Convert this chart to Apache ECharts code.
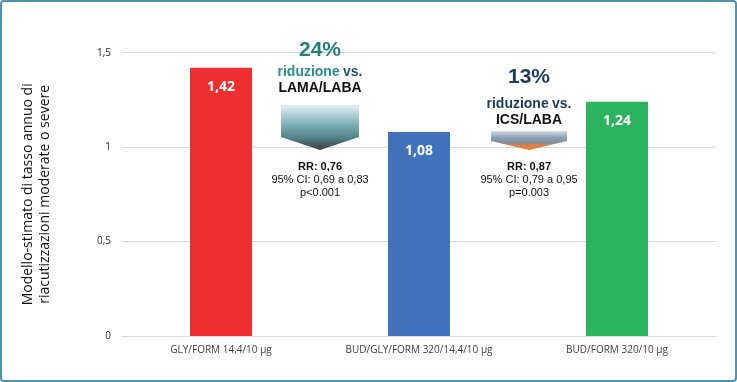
<!DOCTYPE html>
<html>
<head>
<meta charset="utf-8">
<script src="https://cdn.jsdelivr.net/npm/echarts@6/dist/echarts.min.js"></script>
<style>
html,body{margin:0;padding:0;background:#fff;}
#c{width:737px;height:382px;}
</style>
</head>
<body>
<div id="c"></div>
<script>
const categories = ['GLY/FORM 14,4/10 \u00b5g', 'BUD/GLY/FORM 320/14,4/10 \u00b5g', 'BUD/FORM 320/10 \u00b5g'];
const values = [1.42, 1.08, 1.24];
const barColors = ['#ef2f2f', '#4372bd', '#2bb35e'];
const yTicks = [0, 0.5, 1, 1.5];
const yTitle = ['Modello-stimato di tasso annuo di', 'riacutizzazioni moderate o severe'];
const ann1 = { pct: '24%', vs: 'LAMA/LABA', rr: '0,76', ci: '95% CI: 0,69 a 0,83', p: 'p<0.001' };
const ann2 = { pct: '13%', vs: 'ICS/LABA', rr: '0,87', ci: '95% CI: 0,79 a 0,95', p: 'p=0.003' };

const fmt = v => String(v).replace('.', ',');
const chart = echarts.init(document.getElementById('c'));
const F = 'Liberation Sans, Arial, sans-serif';

function arrow(x1, x2, yTop, yRect, yTip, stops) {
  const xm = (x1 + x2) / 2;
  return {
    type: 'polygon', z: 10,
    shape: { points: [[x1, yTop], [x2, yTop], [x2, yRect], [xm, yTip], [x1, yRect]] },
    style: { fill: new echarts.graphic.LinearGradient(0, 0, 0, 1, stops) }
  };
}
function txt(x, y, text, font, color, weight) {
  return { type: 'text', x: x, y: y, z: 11,
    style: { text: text, font: (weight || 'bold') + ' ' + font + 'px ' + F, fill: color, align: 'center', verticalAlign: 'middle' } };
}
function rich(x, y, c1, c2) {
  return { type: 'text', x: x, y: y, z: 11,
    style: { text: '{a|riduzione} {b|vs.}', align: 'center', verticalAlign: 'middle',
      rich: { a: { fontFamily: F, fontWeight: 'bold', fontSize: 14, fill: c1, color: c1 },
              b: { fontFamily: F, fontWeight: 'bold', fontSize: 14, fill: c2, color: c2 } } } };
}

chart.setOption({
  animation: false,
  grid: { left: 122, right: 21, top: 52.7, bottom: 46 },
  xAxis: {
    type: 'category', data: categories,
    axisLine: { lineStyle: { color: '#d9d9d9' } },
    axisTick: { show: false },
    axisLabel: { color: '#404040', fontSize: 10, fontFamily: 'Open Sans', margin: 9 }
  },
  yAxis: {
    type: 'value', min: 0, max: 1.5, interval: 0.5,
    name: yTitle.join('\n'), nameLocation: 'middle', nameRotate: 90, nameGap: 68,
    nameTextStyle: { color: '#111', fontSize: 14, fontFamily: 'Open Sans', lineHeight: 17 },
    axisLine: { show: false }, axisTick: { show: false },
    splitLine: { lineStyle: { color: '#d9d9d9' } },
    axisLabel: { color: '#222', fontSize: 10, fontFamily: 'Open Sans', margin: 11, formatter: v => fmt(v) }
  },
  series: [{
    type: 'bar', barWidth: 62,
    data: values.map((v, i) => ({ value: v, itemStyle: { color: barColors[i] } })),
    label: { show: true, position: 'insideTop', distance: 12, color: '#fff', fontWeight: 'bold',
      fontSize: 14, fontFamily: 'Open Sans', formatter: p => fmt(p.value) }
  }],
  graphic: [
    { type: 'rect', z: 20, shape: { x: 1, y: 1, width: 735, height: 380, r: 3 },
      style: { fill: 'none', stroke: '#4f93b3', lineWidth: 2 } },
    arrow(281, 359, 105, 137, 150, [
      { offset: 0, color: '#e3f0f3' }, { offset: 0.45, color: '#79aeb4' },
      { offset: 0.75, color: '#4f7d82' }, { offset: 1, color: '#3a3a3a' }]),
    arrow(491, 567, 131, 141, 150, [
      { offset: 0, color: '#d3dde6' }, { offset: 0.35, color: '#8b9fb3' },
      { offset: 0.6, color: '#7e8ea0' }, { offset: 0.75, color: '#d98048' }, { offset: 1, color: '#f27a1f' }]),
    txt(320, 50, ann1.pct, 21, '#21807f'),
    rich(320, 72, '#2b8a90', '#24555b'),
    txt(320, 88, ann1.vs, 14, '#111'),
    txt(320, 167, 'RR: ' + ann1.rr, 11, '#111'),
    txt(320, 180, ann1.ci, 11, '#111', 'normal'),
    txt(320, 193, ann1.p, 11, '#111', 'normal'),
    txt(529, 77, ann2.pct, 21, '#1f3a5f'),
    rich(529, 104, '#1f3a5f', '#1f3a5f'),
    txt(529, 120, ann2.vs, 14, '#111'),
    txt(529, 167, 'RR: ' + ann2.rr, 11, '#111'),
    txt(529, 180, ann2.ci, 11, '#111', 'normal'),
    txt(529, 193, ann2.p, 11, '#111', 'normal')
  ]
});
</script>
</body>
</html>
